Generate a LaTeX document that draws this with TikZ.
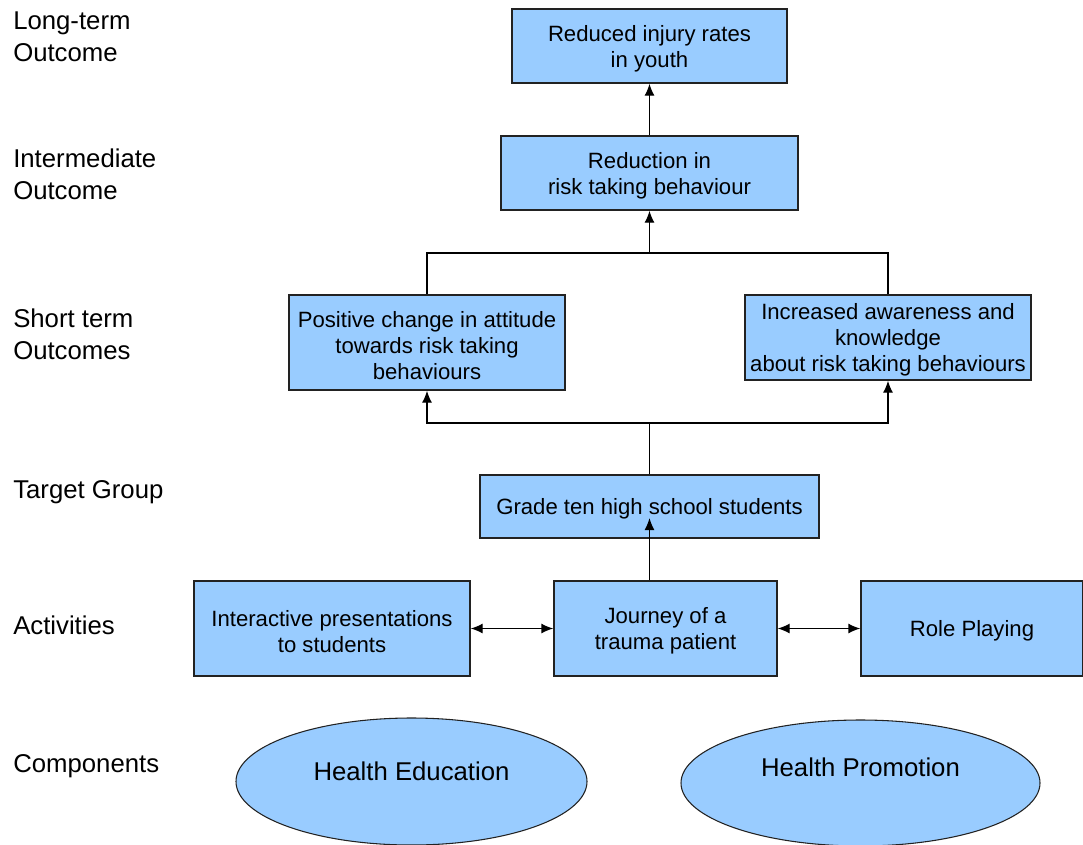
\documentclass[tikz,border=0pt]{standalone}
\usepackage{fontspec}
\setmainfont{Liberation Sans}
\usetikzlibrary{arrows.meta,calc,shapes.geometric}
\definecolor{boxfill}{HTML}{99CCFF}
\definecolor{boxline}{HTML}{222222}
\newcommand{\boxstrut}{\rule{0pt}{16pt}}
\begin{document}
\begin{tikzpicture}[x=0.75pt,y=-0.75pt,
  box/.style={draw=boxline,fill=boxfill,line width=1pt,align=center,inner sep=0pt,
    font=\fontsize{16.6}{19.5}\selectfont},
  oval/.style={ellipse,draw=boxline,fill=boxfill,line width=0.8pt,inner sep=0pt},
  lvl/.style={anchor=west,align=left,inner sep=0pt,font=\fontsize{19.3}{24}\selectfont},
  conn/.style={line width=1pt,draw=black},
  arr/.style={conn,-{Latex[length=9pt,width=7.5pt]}},
  dbl/.style={conn,{Latex[length=9pt,width=7.5pt]}-{Latex[length=9pt,width=7.5pt]}}]
\useasboundingbox (0,0) rectangle (1083,844);
% level labels
\node[lvl] (l1) at (13,37) {Long-term\\Outcome};
\node[lvl] (l2) at (13,174) {Intermediate\\Outcome};
\node[lvl] (l3) at (13,334.5) {Short term\\Outcomes};
\node[lvl] (l4) at (13,492) {Target Group};
\node[lvl] (l5) at (13,625.5) {Activities};
\node[lvl] (l6) at (13,766) {Components};
% boxes
\node[box,minimum width=275*0.75pt,minimum height=74*0.75pt] (lt) at (649.5,46) {\boxstrut Reduced injury rates\\in youth};
\node[box,minimum width=297*0.75pt,minimum height=74*0.75pt] (red) at (649.5,173) {\boxstrut Reduction in\\risk taking behaviour};
\node[box,minimum width=276*0.75pt,minimum height=95*0.75pt] (pos) at (427,342.5) {\boxstrut Positive change in attitude\\towards risk taking\\behaviours};
\node[box,minimum width=286*0.75pt,minimum height=85*0.75pt] (inc) at (888,337.5) {\boxstrut Increased awareness and\\knowledge\\about risk taking behaviours};
\node[box,minimum width=339*0.75pt,minimum height=63*0.75pt] (grade) at (649.5,506.5) {\boxstrut Grade ten high school students};
\node[box,minimum width=276*0.75pt,minimum height=95*0.75pt] (inter) at (332,628.5) {\boxstrut Interactive presentations\\to students};
\node[box,minimum width=223*0.75pt,minimum height=95*0.75pt] (jour) at (665.5,628.5) {\boxstrut Journey of a\\trauma patient};
\node[box,minimum width=222*0.75pt,minimum height=95*0.75pt] (role) at (972,628.5) {\boxstrut Role Playing};
% ellipses
\node[oval,minimum width=351*0.75pt,minimum height=127*0.75pt,
  label={[font=\fontsize{19.3}{24}\selectfont,yshift=7.5pt]center:Health Education}] (he) at (411.5,781.5) {};
\node[oval,minimum width=359*0.75pt,minimum height=126*0.75pt,
  label={[font=\fontsize{19.3}{24}\selectfont,yshift=12pt]center:Health Promotion}] (hp) at (860.5,783) {};
% connectors
\coordinate (j1) at (649.5,253);
\coordinate (j2) at (649.5,423);
\draw[arr] (red.north) -- (lt.south);
\draw[arr] (pos.north) |- (j1) -- (red.south);
\draw[conn] (inc.north) |- (j1);
\draw[conn] (grade.north) -- (j2);
\draw[arr] (j2) -| (pos.south);
\draw[arr] (j2) -| (inc.south);
\draw[arr] (jour.north -| grade.center) -- ($(grade.center)+(0,11.5)$);
\draw[dbl] (inter.east) -- (jour.west);
\draw[dbl] (jour.east) -- (role.west);
\end{tikzpicture}
\end{document}
